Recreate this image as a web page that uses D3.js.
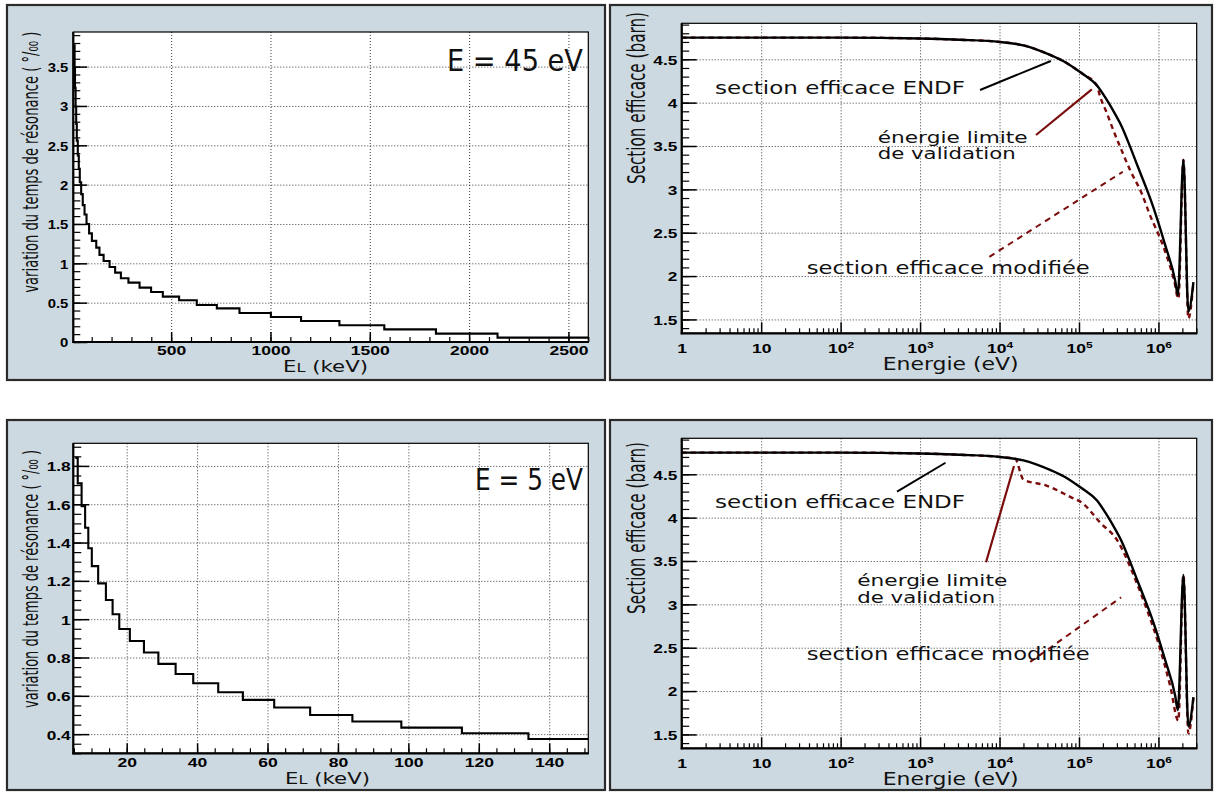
<!DOCTYPE html>
<html><head><meta charset="utf-8">
<script src="https://cdn.jsdelivr.net/npm/d3@7"></script>
<style>body{margin:0;background:#fff} svg{display:block}</style>
</head><body>
<svg id="c" width="1215" height="793"></svg>
<script>
// ---------------- data ----------------
// top-left histogram (E = 45 eV): bin edges (keV) and values (per mille)
const tlBinEdges = [10,14,16,19,22,25,30,35,40,47,55,64,74,87,101,123,139,160,190,218,247,285,341,399,458,540,629,730,844,1002,1154,1347,1573,1833,2143,2600];
const tlBinValues = [3.77,3.48,3.23,2.99,2.77,2.56,2.37,2.20,2.03,1.88,1.74,1.62,1.50,1.38,1.285,1.2,1.107,1.03,0.954,0.882,0.81,0.755,0.691,0.636,0.577,0.53,0.47,0.428,0.369,0.318,0.267,0.212,0.161,0.106,0.055];
// bottom-left histogram (E = 5 eV)
const blBinEdges = [5.4,6.1,7.2,8.2,9.1,10.1,11.9,14.1,16,17.9,20.9,24.9,29,33.9,38.9,46,53,61.9,72.1,84.1,98,115.2,134.1,151.1];
const blBinValues = [1.842,1.709,1.59,1.477,1.37,1.277,1.187,1.10,1.026,0.949,0.886,0.826,0.767,0.714,0.666,0.619,0.579,0.539,0.50,0.466,0.434,0.405,0.375];
// ENDF cross section (eV, barn)
const energyEndf = [1,10,100,1000,3162,10160,20000,43250,63100,93760,112000,167500,214000,268500,347000,440600,562000,748200,865000,1213000,1622000,1754000,2061000,2382000,2754000];
const sigmaEndf  = [4.75,4.75,4.75,4.74,4.725,4.70,4.66,4.55,4.48,4.38,4.33,4.20,4.06,3.91,3.72,3.49,3.24,2.95,2.79,2.36,1.95,1.78,3.34,1.59,1.93];
// modified cross section, E = 45 eV case
const energyMod45 = [1,10,100,1000,3162,10160,20000,43250,63100,93760,112000,167500,184500,223900,271000,329600,440600,618000,769100,1153000,1574000,1782000,2061000,2382000,2754000];
const sigmaMod45  = [4.75,4.75,4.75,4.74,4.725,4.70,4.66,4.55,4.48,4.38,4.33,4.20,4.07,3.88,3.68,3.49,3.22,2.95,2.72,2.34,1.95,1.74,3.34,1.51,1.92];
// modified cross section, E = 5 eV case
const energyMod5 = [1,10,100,1000,3162,10160,15700,19950,38900,77600,109600,186200,302000,537000,708000,1000000,1413000,1778000,2061000,2382000,2754000];
const sigmaMod5  = [4.75,4.75,4.75,4.74,4.725,4.70,4.68,4.44,4.37,4.24,4.17,3.94,3.74,3.24,2.95,2.55,2.05,1.66,3.34,1.51,1.92];
// tick values
const tlXTicks = [500,1000,1500,2000,2500];
const tlYTicks = [0,0.5,1,1.5,2,2.5,3,3.5];
const blXTicks = [20,40,60,80,100,120,140];
const blYTicks = [0.4,0.6,0.8,1,1.2,1.4,1.6,1.8];
const energyTicks = [1,10,100,1000,10000,100000,1000000];
const sigmaTicks = [1.5,2,2.5,3,3.5,4,4.5];
// annotations [energy, sigma]
const ann45 = {
  endfLine:[[5690,4.146],[44200,4.48]],
  limLine:[[28800,3.627],[145000,4.154]],
  modLine:[[7450,2.222],[356000,3.203]],
  endfText:[2.63,4.096], limText1:[293,3.538], limText2:[293,3.346], modText:[37.5,2.023]
};
const ann5 = {
  endfLine:[[513,4.30],[2090,4.633]],
  limLine:[[6760,3.486],[15200,4.595]],
  modLine:[[24300,2.336],[339000,3.081]],
  endfText:[2.63,4.108], limText1:[162,3.211], limText2:[162,3.015], modText:[37.5,2.36]
};

// ---------------- drawing ----------------
const svg = d3.select("#c");
const TICK_FONT = "'Liberation Sans', Arial, Helvetica, sans-serif";
const HAND_FONT = "'Comic Sans MS', 'DejaVu Sans', sans-serif";
const FILL = "#cdd9e0";
const RED = "#7a0c0c";

function frame(x0,y0,x1,y1){
  svg.append("rect").attr("x",x0).attr("y",y0).attr("width",x1-x0).attr("height",y1-y0)
    .attr("fill",FILL).attr("stroke","#2b2b2b").attr("stroke-width",2.2);
}
frame(7,5,605,380);
frame(610,5,1212,380);
frame(7,420,605,790);
frame(610,420,1212,790);

let clipId=0;
function panel(o){
  const [L,T,R,B]=o.plot;
  const x=(o.log?d3.scaleLog():d3.scaleLinear()).domain(o.xDomain).range([L,R]);
  const y=d3.scaleLinear().domain(o.yDomain).range([B,T]);
  const g=svg.append("g");
  g.append("rect").attr("x",L).attr("y",T).attr("width",R-L).attr("height",B-T).attr("fill","#fff");
  const gx=g.append("g").attr("transform",`translate(0,${B})`)
    .call(d3.axisBottom(x).tickValues(o.xTicks).tickSize(-(B-T)).tickFormat(""));
  const gy=g.append("g").attr("transform",`translate(${L},0)`)
    .call(d3.axisLeft(y).tickValues(o.yTicks).tickSize(-(R-L)).tickFormat(""));
  [gx,gy].forEach(a=>{a.select(".domain").remove();
    a.selectAll("line").attr("stroke","#3a3a3a").attr("stroke-width",1).attr("stroke-dasharray","1,2");});
  const mx=g.append("g").attr("transform",`translate(0,${B})`)
    .call(d3.axisBottom(x).tickValues(o.xMinor).tickSizeInner(-o.xMinorLen).tickSizeOuter(0).tickFormat(""));
  const my=g.append("g").attr("transform",`translate(${L},0)`)
    .call(d3.axisLeft(y).tickValues(o.yMinor).tickSizeInner(-o.yMinorLen).tickSizeOuter(0).tickFormat(""));
  [mx,my].forEach(a=>{a.select(".domain").remove(); a.selectAll("line").attr("stroke","#000").attr("stroke-width",1.2);});
  const ax=g.append("g").attr("transform",`translate(0,${B})`)
    .call(d3.axisBottom(x).tickValues(o.xTicks).tickSizeInner(-o.xMajorLen).tickSizeOuter(0).tickFormat(d=>String(d)));
  const ay=g.append("g").attr("transform",`translate(${L},0)`)
    .call(d3.axisLeft(y).tickValues(o.yTicks).tickSizeInner(-o.yMajorLen).tickSizeOuter(0).tickFormat(d=>String(d)));
  [ax,ay].forEach(a=>{a.select(".domain").remove(); a.attr("font-family",null).attr("font-size",null);
    a.selectAll("line").attr("stroke","#000").attr("stroke-width",1.5);});
  ax.selectAll("text").attr("dy",null).attr("y",o.xLabOff)
    .attr("font-family",TICK_FONT).attr("font-weight","bold").attr("font-size",13.5).attr("fill","#000")
    .attr("transform",`scale(${o.xsx},1)`);
  if(o.log){
    ax.selectAll("text").each(function(d){
      const t=d3.select(this); t.text(null);
      if(d<100){t.text(String(d));}
      else{t.append("tspan").text("10");
        t.append("tspan").attr("dy","-0.55em").attr("font-size","0.68em").text(Math.round(Math.log10(d)));}
    });
  }
  ay.selectAll("text").attr("dy","0.36em").attr("x",-o.yLabGap/o.ysx)
    .attr("font-family",TICK_FONT).attr("font-weight","bold").attr("font-size",13.5).attr("fill","#000")
    .attr("transform",`scale(${o.ysx},1)`);
  const id="clip"+(clipId++);
  svg.append("clipPath").attr("id",id).append("rect").attr("x",L).attr("y",T).attr("width",R-L).attr("height",B-T);
  const plotG=svg.append("g").attr("clip-path",`url(#${id})`);
  const border=()=>{
    svg.append("rect").attr("x",L).attr("y",T).attr("width",R-L).attr("height",B-T).attr("fill","none").attr("stroke","#000").attr("stroke-width",1.2);
    svg.append("line").attr("x1",L).attr("x2",L).attr("y1",T).attr("y2",B+1).attr("stroke","#000").attr("stroke-width",2.2);
    svg.append("line").attr("x1",L-1).attr("x2",R+0.6).attr("y1",B).attr("y2",B).attr("stroke","#000").attr("stroke-width",2.2);
  };
  return {x,y,plotG,border,L,T,R,B};
}

function hist(p,edges,values){
  const pts=values.map((v,i)=>[edges[i],v]);
  pts.push([edges[edges.length-1],values[values.length-1]]);
  p.plotG.append("path").attr("d",d3.line().x(d=>p.x(d[0])).y(d=>p.y(d[1])).curve(d3.curveStepAfter)(pts))
    .attr("fill","none").attr("stroke","#000").attr("stroke-width",2.1);
}
function curve(p,xs,ys,color,dash){
  const pts=xs.map((e,i)=>[e,ys[i]]);
  p.plotG.append("path").attr("d",d3.line().x(d=>p.x(d[0])).y(d=>p.y(d[1])).curve(d3.curveMonotoneX)(pts))
    .attr("fill","none").attr("stroke",color).attr("stroke-width",2.4).attr("stroke-dasharray",dash||null);
}
function hText(x,y,str,size,len){
  const t=svg.append("text").attr("x",x).attr("y",y).attr("font-family",HAND_FONT).attr("font-size",size)
    .attr("fill","#111").text(str);
  if(len) t.attr("textLength",len).attr("lengthAdjust","spacingAndGlyphs");
  return t;
}
function yTitle(xBase,yTop,str,size,len){
  svg.append("text").attr("transform","rotate(-90)").attr("x",-yTop).attr("y",xBase)
    .attr("text-anchor","end").attr("font-family",HAND_FONT).attr("font-size",size).attr("fill","#111")
    .attr("textLength",len).attr("lengthAdjust","spacingAndGlyphs").text(str);
}
function annotate(p,a){
  const seg=(s,c,w,dash)=>svg.append("line").attr("x1",p.x(s[0][0])).attr("y1",p.y(s[0][1]))
    .attr("x2",p.x(s[1][0])).attr("y2",p.y(s[1][1])).attr("stroke",c).attr("stroke-width",w).attr("stroke-dasharray",dash||null);
  seg(a.endfLine,"#000",2);
  seg(a.limLine,RED,2.2);
  seg(a.modLine,RED,2,"6,5");
  hText(p.x(a.endfText[0]),p.y(a.endfText[1]),"section efficace ENDF",17,250);
  hText(p.x(a.limText1[0]),p.y(a.limText1[1]),"énergie limite",15.5,150);
  hText(p.x(a.limText2[0]),p.y(a.limText2[1]),"de validation",15.5,138);
  hText(p.x(a.modText[0]),p.y(a.modText[1]),"section efficace modifiée",17,283);
}

const energyMinor=[]; for(let dec=1;dec<=1e6;dec*=10){for(let k=2;k<=9;k++){if(k*dec<=3.03e6)energyMinor.push(k*dec);}}
const sigmaMinor=d3.range(14,50).map(v=>v/10);

// ---- top-left ----
const pTL=panel({plot:[73.3,32,588.3,342],xDomain:[7.4,2600],yDomain:[0,3.94],
  xTicks:tlXTicks,yTicks:tlYTicks,xMinor:d3.range(100,2601,100),yMinor:d3.range(0,40).map(v=>v/10),
  xMajorLen:10,xMinorLen:5,yMajorLen:14,yMinorLen:7,xLabOff:13,xsx:1.3,yLabGap:5,ysx:1.1});
hist(pTL,tlBinEdges,tlBinValues);
pTL.border();
hText(447,71,"E = 45 eV",31,136);
const tlx=svg.append("text").attr("x",283).attr("y",372).attr("font-family",HAND_FONT).attr("font-size",16.5).attr("fill","#111")
  .attr("textLength",85).attr("lengthAdjust","spacingAndGlyphs");
tlx.append("tspan").text("E"); tlx.append("tspan").attr("font-size",12.5).text("L"); tlx.append("tspan").text(" (keV)");
yTitle(38,31.7,"variation du temps de résonance ( °/₀₀ )",22,261);

// ---- top-right ----
const pTR=panel({plot:[681.7,23.3,1196.7,333.3],log:true,xDomain:[1,3.03e6],yDomain:[1.34,4.915],
  xTicks:energyTicks,yTicks:sigmaTicks,xMinor:energyMinor,yMinor:sigmaMinor,
  xMajorLen:11,xMinorLen:5,yMajorLen:15,yMinorLen:7.5,xLabOff:20,xsx:1.3,yLabGap:4.4,ysx:1.28});
curve(pTR,energyMod45,sigmaMod45,RED,"5,4");
curve(pTR,energyEndf,sigmaEndf,"#000");
pTR.border();
annotate(pTR,ann45);
hText(882.7,370,"Energie (eV)",17,136);
yTitle(645,12,"Section efficace (barn)",24,172);

// ---- bottom-left ----
const pBL=panel({plot:[73.3,443.3,588.3,753.3],xDomain:[4.84,151.1],yDomain:[0.30,1.918],
  xTicks:blXTicks,yTicks:blYTicks,xMinor:d3.range(5,151,5),yMinor:d3.range(6,39).map(v=>v/20),
  xMajorLen:10,xMinorLen:5,yMajorLen:16,yMinorLen:8,xLabOff:14,xsx:1.3,yLabGap:2.6,ysx:1.28});
hist(pBL,blBinEdges,blBinValues);
pBL.border();
hText(475,490,"E = 5 eV",31,108);
const blx=svg.append("text").attr("x",285).attr("y",783.5).attr("font-family",HAND_FONT).attr("font-size",16.5).attr("fill","#111")
  .attr("textLength",85).attr("lengthAdjust","spacingAndGlyphs");
blx.append("tspan").text("E"); blx.append("tspan").attr("font-size",12.5).text("L"); blx.append("tspan").text(" (keV)");
yTitle(38,450,"variation du temps de résonance ( °/₀₀ )",22,258);

// ---- bottom-right ----
const pBR=panel({plot:[681.7,438.3,1196.7,748.3],log:true,xDomain:[1,3.03e6],yDomain:[1.34,4.915],
  xTicks:energyTicks,yTicks:sigmaTicks,xMinor:energyMinor,yMinor:sigmaMinor,
  xMajorLen:11,xMinorLen:5,yMajorLen:15,yMinorLen:7.5,xLabOff:20,xsx:1.3,yLabGap:4.4,ysx:1.28});
curve(pBR,energyMod5,sigmaMod5,RED,"5,4");
curve(pBR,energyEndf,sigmaEndf,"#000");
pBR.border();
annotate(pBR,ann5);
hText(882.7,785,"Energie (eV)",17,136);
yTitle(645,442,"Section efficace (barn)",24,172);
</script>
</body></html>
